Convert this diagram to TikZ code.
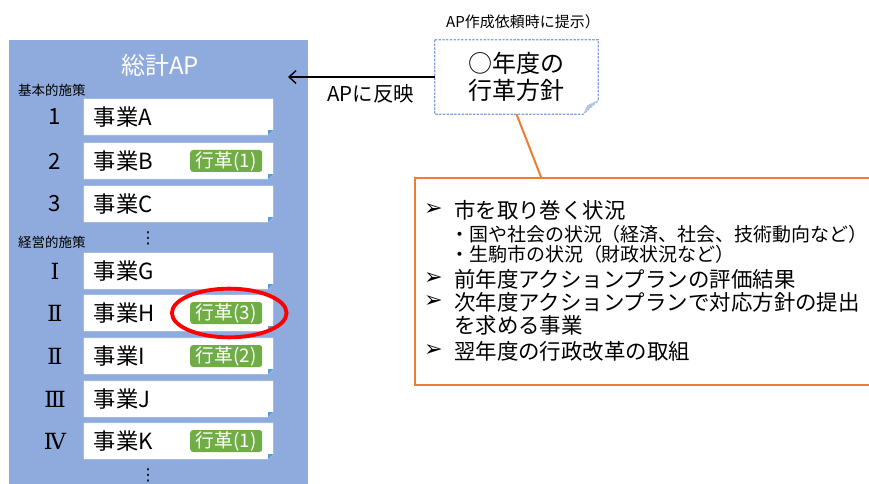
\documentclass[tikz,border=0pt]{standalone}
\usepackage{fontspec}
\setmainfont{Noto Sans CJK JP}
\newfontfamily\symfont{DejaVu Sans}
\newfontfamily\romanfont{DejaVu Serif}
\usetikzlibrary{arrows.meta,calc}

\definecolor{panelblue}{RGB}{143,170,220}
\definecolor{edgeblue}{RGB}{180,199,231}
\definecolor{cornerblue}{RGB}{91,155,213}
\definecolor{taggreen}{RGB}{112,173,71}
\definecolor{kaikaku}{RGB}{237,125,49}
\definecolor{dashblue}{RGB}{132,160,214}

\tikzset{
  jigyo/.style={minimum width=5.67cm, minimum height=1.08cm, inner sep=0pt},
  kakutag/.style={fill=taggreen, text=white, rounded corners=2.5pt, minimum width=2.16cm,
    minimum height=0.66cm, inner sep=0pt, font=\fontsize{16}{18}\selectfont},
  midashi/.style={anchor=west, font=\fontsize{11.5}{13}\selectfont},
  koumoku/.style={anchor=west, font=\fontsize{18.3}{20}\selectfont},
  shoukou/.style={anchor=west, font=\fontsize{16.2}{18}\selectfont},
  yajirushi/.style={anchor=west, inner sep=0pt, font=\symfont\fontsize{19}{21}\selectfont},
  tenten/.style={inner sep=0pt, font=\symfont\fontsize{14}{16}\selectfont}
}

\begin{document}
\begin{tikzpicture}[x=0.03cm, y=-0.03cm]
  \useasboundingbox (0,0) rectangle (869,484);
  \clip (0,0) rectangle (869,484);

  % left panel
  \node[fill=panelblue, anchor=north west, minimum width=8.97cm, minimum height=13.8cm, inner sep=0pt] (panel) at (9,40) {};
  \node[text=white, font=\fontsize{20.5}{22}\selectfont] (soukei) at (160,65) {総計AP};
  \node[midashi] (kihon) at (14,90) {基本的施策};
  \node[midashi] (keiei) at (14,242) {経営的施策};

  % rows
  \foreach \y/\num/\name in {117/1/A, 161/2/B, 204/3/C, 271/\romanfont Ⅰ/G, 313/\romanfont Ⅱ/H, 356/\romanfont Ⅱ/I, 399/\romanfont Ⅲ/J, 441/\romanfont Ⅳ/K} {
    \node[jigyo] (row\name) at (178.5,\y) {};
    \filldraw[fill=white, draw=edgeblue, line width=0.4pt] (row\name.north west) -- (row\name.north east)
      -- ($(row\name.south east)+(0,-5)$) -- ($(row\name.south east)+(-5,0)$) -- (row\name.south west) -- cycle;
    \fill[cornerblue] ($(row\name.south east)+(0,-5)$) -- ($(row\name.south east)+(-5,0)$) -- ($(row\name.south east)+(-5,-5)$) -- cycle;
    \node[anchor=west, font=\fontsize{19}{21}\selectfont] (lbl\name) at ($(row\name.west)+(6,0)$) {事業\name};
    \node[font=\fontsize{19}{21}\selectfont] (num\name) at (55,\y) {\num};
  }
  \node[tenten] (dotsA) at (148,238) {⋮};
  \node[tenten] (dotsB) at (148,475) {⋮};

  % tags
  \foreach \name/\t in {B/1, H/3, I/2, K/1}
    \node[kakutag] (tag\name) at ($(row\name.east)+(-47,0)$) {行革(\t)};
  \draw[red, line width=3.3pt] ($(tagH)+(3,0)$) ellipse (1.72cm and 0.73cm);

  % policy note
  \node[font=\fontsize{12.8}{14}\selectfont] (teiji) at (523,22) {AP作成依頼時に提示）};
  \node[align=center, minimum width=4.89cm, minimum height=2.22cm, inner sep=0pt,
    font=\fontsize{20.5}{23.5}\selectfont] (hoshin) at (516.5,77) {○年度の\\行革方針};
  \draw[dashblue, dashed, dash pattern=on 2pt off 1.2pt, line width=0.9pt] (hoshin.north west) -- (hoshin.north east)
    -- ($(hoshin.south east)+(0,-14)$) -- ($(hoshin.south east)+(-15,0)$) -- (hoshin.south west) -- cycle;
  \fill[dashblue!60] ($(hoshin.south east)+(0,-14)$) -- ($(hoshin.south east)+(-15,0)$) -- ($(hoshin.south east)+(-11,-9)$) -- cycle;

  \coordinate (hanei) at (288,77);
  \draw[-{Straight Barb[length=6pt,width=11pt]}, line width=1.2pt] (hoshin.west) -- (hanei);
  \node[font=\fontsize{17.5}{19}\selectfont] (haneilbl) at (371,94) {APに反映};

  % background box
  \node[draw=kaikaku, line width=2pt, anchor=north west, minimum width=14cm, minimum height=6.21cm, inner sep=0pt] (kankyo) at (414,177) {};
  \coordinate (kk) at (541,177);
  \draw[kaikaku, line width=1.7pt] (hoshin.south) -- (kk);

  \node[yajirushi] (ya1) at (424,210) {➢};
  \node[koumoku] (k1) at (450,210) {市を取り巻く状況};
  \node[shoukou] (s1) at (446,234) {・国や社会の状況（経済、社会、技術動向など）};
  \node[shoukou] (s2) at (446,254) {・生駒市の状況（財政状況など）};
  \node[yajirushi] (ya2) at (424,279) {➢};
  \node[koumoku] (k2) at (450,279) {前年度アクションプランの評価結果};
  \node[yajirushi] (ya3) at (424,302) {➢};
  \node[koumoku] (k3) at (450,302) {次年度アクションプランで対応方針の提出};
  \node[koumoku] (k3b) at (450,325) {を求める事業};
  \node[yajirushi] (ya4) at (424,351) {➢};
  \node[koumoku] (k4) at (450,351) {翌年度の行政改革の取組};
\end{tikzpicture}
\end{document}
